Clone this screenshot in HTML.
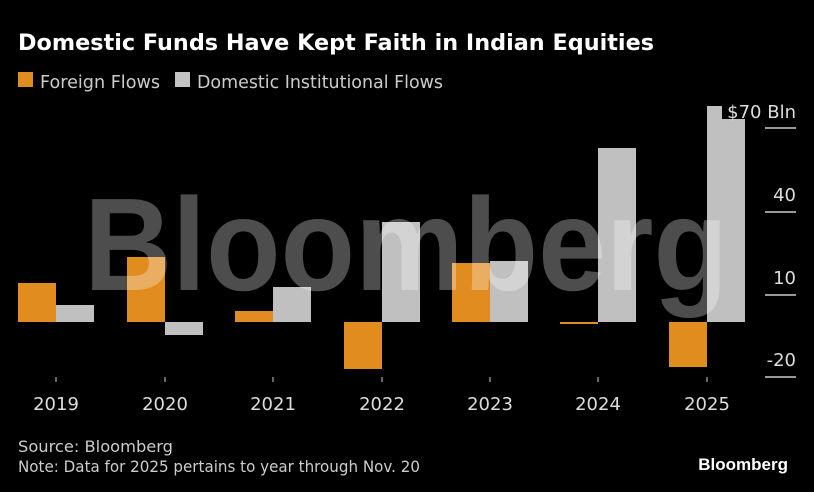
<!DOCTYPE html>
<html><head><meta charset="utf-8"><style>
html,body{margin:0;padding:0;background:#000;}
svg{display:block;font-family:"DejaVu Sans","Liberation Sans",sans-serif;}
</style></head><body>
<svg width="814" height="492" viewBox="0 0 814 492">
<rect width="814" height="492" fill="#000"/>
<text x="18" y="50" fill="#fff" font-size="22" font-weight="bold" textLength="636" lengthAdjust="spacingAndGlyphs">Domestic Funds Have Kept Faith in Indian Equities</text>
<rect x="18" y="72" width="15" height="15" fill="#e08c1f"/>
<text x="40" y="88" fill="#ccc" font-size="18" textLength="120" lengthAdjust="spacingAndGlyphs">Foreign Flows</text>
<rect x="175" y="72" width="15" height="15" fill="#c4c4c4"/>
<text x="197" y="88" fill="#ccc" font-size="18" textLength="246" lengthAdjust="spacingAndGlyphs">Domestic Institutional Flows</text>
<g fill="#e08c1f">
<rect x="18" y="283" width="38" height="39"/>
<rect x="127" y="257" width="38" height="65"/>
<rect x="235" y="311" width="38" height="11"/>
<rect x="344" y="322" width="38" height="47"/>
<rect x="452" y="263" width="38" height="59"/>
<rect x="560" y="322" width="38" height="2"/>
<rect x="669" y="322" width="38" height="45"/>
</g>
<g fill="#c0c0c0">
<rect x="56" y="305" width="38" height="17"/>
<rect x="165" y="322" width="38" height="13"/>
<rect x="273" y="287" width="38" height="35"/>
<rect x="382" y="222" width="38" height="100"/>
<rect x="490" y="261" width="38" height="61"/>
<rect x="598" y="148" width="38" height="174"/>
<rect x="707" y="106" width="38" height="216"/>
</g>
<rect x="722" y="100" width="23" height="19" fill="#000"/>
<text x="796" y="118" fill="#ddd" font-size="18" text-anchor="end">$70 Bln</text>
<text x="796" y="201" fill="#ddd" font-size="18" text-anchor="end">40</text>
<text x="796" y="284" fill="#ddd" font-size="18" text-anchor="end">10</text>
<text x="796" y="366" fill="#ddd" font-size="18" text-anchor="end">-20</text>
<g stroke="#ccc" stroke-width="1.5">
<line x1="765" y1="128" x2="796" y2="128"/>
<line x1="765" y1="212" x2="796" y2="212"/>
<line x1="765" y1="295" x2="796" y2="295"/>
<line x1="765" y1="377" x2="796" y2="377"/>
</g>
<g stroke="#ccc" stroke-width="1">
<line x1="56" y1="377" x2="56" y2="382"/><line x1="165" y1="377" x2="165" y2="382"/>
<line x1="273" y1="377" x2="273" y2="382"/><line x1="382" y1="377" x2="382" y2="382"/>
<line x1="490" y1="377" x2="490" y2="382"/><line x1="598" y1="377" x2="598" y2="382"/>
<line x1="707" y1="377" x2="707" y2="382"/>
</g>
<g fill="#ddd" font-size="18" text-anchor="middle">
<text x="56" y="410">2019</text><text x="165" y="410">2020</text><text x="273" y="410">2021</text>
<text x="382" y="410">2022</text><text x="490" y="410">2023</text><text x="598" y="410">2024</text>
<text x="707" y="410">2025</text>
</g>
<text x="406" y="290" fill="#fff" fill-opacity="0.3" font-family="Liberation Sans, sans-serif" font-size="132" font-weight="bold" text-anchor="middle" textLength="644" lengthAdjust="spacingAndGlyphs">Bloomberg</text>
<text x="18" y="452" fill="#ccc" font-size="16" textLength="155" lengthAdjust="spacingAndGlyphs">Source: Bloomberg</text>
<text x="18" y="472" fill="#ccc" font-size="16" textLength="402" lengthAdjust="spacingAndGlyphs">Note: Data for 2025 pertains to year through Nov. 20</text>
<text x="788" y="470" fill="#fff" font-size="17" font-weight="bold" font-family="Liberation Sans, sans-serif" text-anchor="end">Bloomberg</text>
</svg>
</body></html>
